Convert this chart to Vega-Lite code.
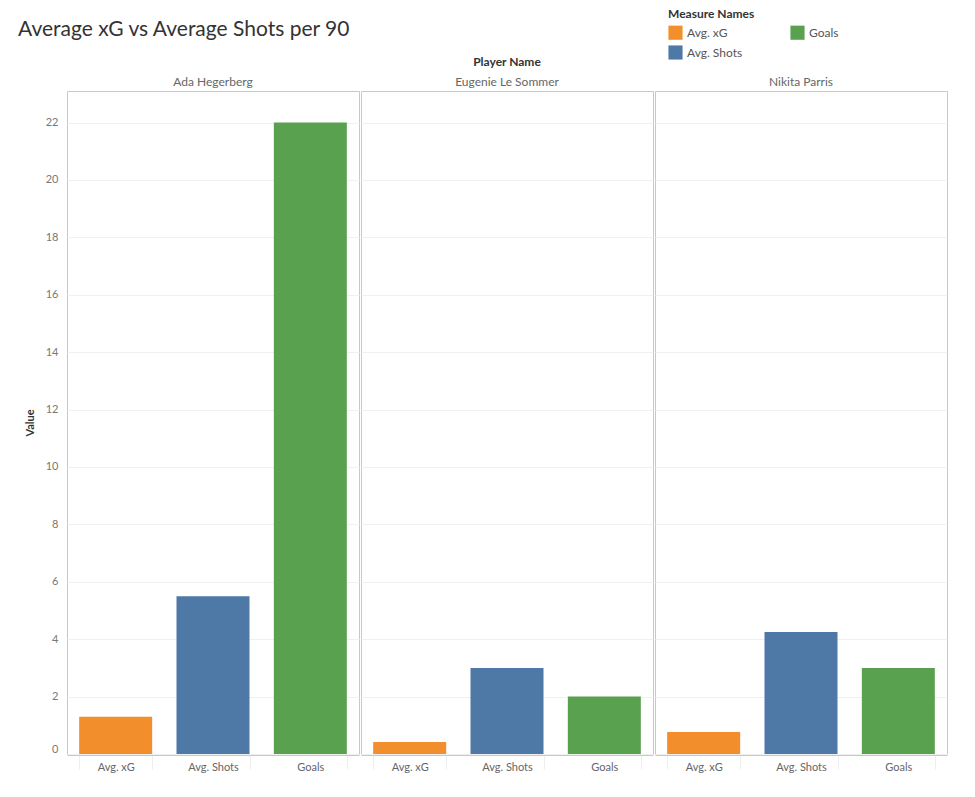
{
  "$schema": "https://vega.github.io/schema/vega-lite/v6.json",
  "padding": {"left": 18, "top": 9, "right": 5, "bottom": 5},
  "title": {"text": "Average xG vs Average Shots per 90", "orient": "none", "anchor": "start", "fontSize": 21, "font": "Lato", "fontWeight": "normal", "color": "#333333", "dx": -49, "dy": -72},
  "data": {"values": [
    {"player": "Ada Hegerberg", "measure": "Avg. xG", "value": 1.3},
    {"player": "Ada Hegerberg", "measure": "Avg. Shots", "value": 5.5},
    {"player": "Ada Hegerberg", "measure": "Goals", "value": 22},
    {"player": "Eugenie Le Sommer", "measure": "Avg. xG", "value": 0.42},
    {"player": "Eugenie Le Sommer", "measure": "Avg. Shots", "value": 3.0},
    {"player": "Eugenie Le Sommer", "measure": "Goals", "value": 2},
    {"player": "Nikita Parris", "measure": "Avg. xG", "value": 0.77},
    {"player": "Nikita Parris", "measure": "Avg. Shots", "value": 4.25},
    {"player": "Nikita Parris", "measure": "Goals", "value": 3}
  ]},
  "facet": {"column": {"field": "player", "type": "nominal", "header": {"title": "Player Name", "titleOrient": "top", "labelOrient": "top", "titleFont": "Lato", "titleFontSize": 12, "titleFontWeight": "bold", "titleColor": "#333333", "titlePadding": -3, "labelFont": "Lato", "labelFontSize": 12, "labelColor": "#666666", "labelPadding": 1}}},
  "spacing": 0,
  "spec": {
    "width": 292,
    "height": 663,
    "mark": {"type": "bar"},
    "encoding": {
      "x": {"field": "measure", "type": "nominal", "sort": ["Avg. xG", "Avg. Shots", "Goals"], "title": null,
        "scale": {"paddingInner": 0.25, "paddingOuter": 0.125},
        "axis": {"labelAngle": 0, "labelFont": "Lato", "labelFontSize": 11, "labelColor": "#666666", "domainColor": "#c8c8c8", "tickBand": "extent", "tickColor": "#eeeeee", "tickSize": 14, "labelPadding": -8}},
      "y": {"field": "value", "type": "quantitative", "title": "Value",
        "scale": {"domain": [0, 23.1], "nice": false, "zero": true},
        "axis": {"values": [0, 2, 4, 6, 8, 10, 12, 14, 16, 18, 20, 22], "labelFlush": true, "labelFont": "Lato", "labelFontSize": 11, "labelColor": "#777777", "ticks": false, "domain": false, "gridColor": "#f0f0f0", "titleFont": "Lato", "titleFontSize": 11, "titleFontWeight": "bold", "titleColor": "#333333", "titlePadding": 10, "labelPadding": 8}},
      "color": {"field": "measure", "type": "nominal",
        "scale": {"domain": ["Avg. xG", "Avg. Shots", "Goals"], "range": ["#f28e2b", "#4e79a7", "#59a14f"]},
        "legend": {"title": "Measure Names", "orient": "none", "legendX": 601, "legendY": -82, "columns": 2, "columnPadding": 47, "rowPadding": 5, "symbolType": "square", "symbolSize": 200, "symbolStrokeWidth": 0, "symbolOpacity": 1, "titleFont": "Lato", "titleFontSize": 12, "titleFontWeight": "bold", "titleColor": "#333333", "labelFont": "Lato", "labelFontSize": 12, "labelColor": "#555555", "titlePadding": 4}}
    }
  },
  "config": {"view": {"stroke": "#c8c8c8"}, "bar": {"opacity": 1}}
}
